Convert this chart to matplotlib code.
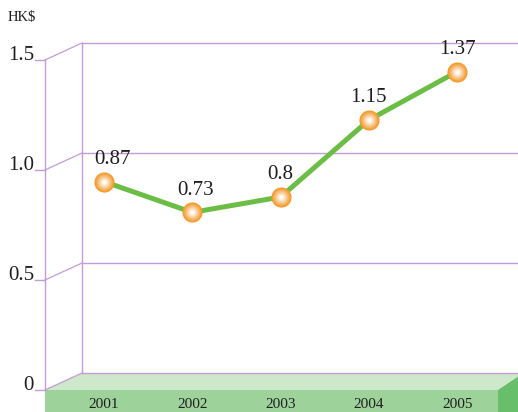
import matplotlib.pyplot as plt
import numpy as np
from matplotlib.patches import Polygon
from matplotlib.colors import to_rgb

plt.rcParams['font.family'] = ['Liberation Serif', 'DejaVu Serif']

years = ['2001', '2002', '2003', '2004', '2005']
values = [0.87, 0.73, 0.8, 1.15, 1.37]
labels = ['0.87', '0.73', '0.8', '1.15', '1.37']
yticks = [0, 0.5, 1.0, 1.5]
ytick_labels = ['0', '0.5', '1.0', '1.5']

# pixel layout of the picture (518x412)
W, H = 518, 412
X0, XS = 104, 88.3      # px of first category, px per category
Y0, YS = 373, 220       # px of zero on back wall, px per unit
DX = -37 / XS           # depth offset to front plane
DY = -17 / YS
WL = (82 - X0) / XS     # back wall left edge
SR = (498 - X0) / XS    # slab front right edge

grid_c = '#c29cd4'

fig = plt.figure(figsize=(W / 100, H / 100), dpi=100)
ax = fig.add_axes([0, 0, 1, 1])
xr = (W - X0) / XS
yb = (Y0 - H) / YS
ax.set_xlim(-X0 / XS, xr)
ax.set_ylim(yb, Y0 / YS)
ax.axis('off')

# floor slab
ax.add_patch(Polygon([(WL + DX, DY), (WL, 0), (xr + 1, 0), (SR, DY)],
                     closed=True, fc='#cde8ca', ec='none', zorder=1))
ax.add_patch(Polygon([(WL + DX, DY), (SR, DY), (SR, yb - 1), (WL + DX, yb - 1)],
                     closed=True, fc='#9ed29b', ec='none', zorder=1))
ax.add_patch(Polygon([(SR, DY), (SR + 30 / XS, 20 / YS + DY), (SR + 30 / XS, yb - 1), (SR, yb - 1)],
                     closed=True, fc='#67be6b', ec='none', zorder=1))

# walls and grid
ax.plot([WL, WL], [0, 1.5], color=grid_c, lw=1.0, zorder=2)
ax.plot([WL + DX, WL + DX], [DY, 1.5 + DY], color=grid_c, lw=1.0, zorder=2)
for v, t in zip(yticks, ytick_labels):
    ax.plot([WL, xr], [v, v], color=grid_c, lw=1.0, zorder=2)
    ax.plot([WL + DX, WL], [v + DY, v], color=grid_c, lw=0.9, zorder=2)
    ax.plot([(35 - X0) / XS, WL + DX], [v + DY, v + DY], color=grid_c, lw=1.0, zorder=2)
    ax.text((34 - X0) / XS, v + DY, t, ha='right', va='baseline',
            fontsize=15, color='#1e1e1e')

ax.text((8 - X0) / XS, (Y0 - 21) / YS, 'HK$', ha='left', va='baseline',
        fontsize=10.5, color='#1e1e1e')

x = np.arange(len(years))
for i, yr in enumerate(years):
    ax.text(x[i], (Y0 - 408) / YS, yr, ha='center', va='baseline',
            fontsize=11, color='#1e1e1e')

# line and shaded markers
ax.plot(x, values, color='#6cbd45', lw=3.6, zorder=4, solid_capstyle='round')
orange = np.array(to_rgb('#f39a2c'))
sizes = np.linspace(14.5, 2.5, 9)
for k, s in enumerate(sizes):
    f = (k / (len(sizes) - 1)) ** 1.1
    c = orange * (1 - f) + np.ones(3) * f
    ax.plot(x, values, 'o', ms=s, mfc=c, mec='none', zorder=5 + k * 0.01)

label_dx = [6, 2, 0, 0, 0]
for i, (v, t) in enumerate(zip(values, labels)):
    ax.annotate(t, (x[i], v), xytext=(label_dx[i], 12.8), textcoords='offset points',
                ha='center', va='baseline', fontsize=15, color='#1e1e1e', zorder=6)

fig.savefig('out.png', dpi=100)
